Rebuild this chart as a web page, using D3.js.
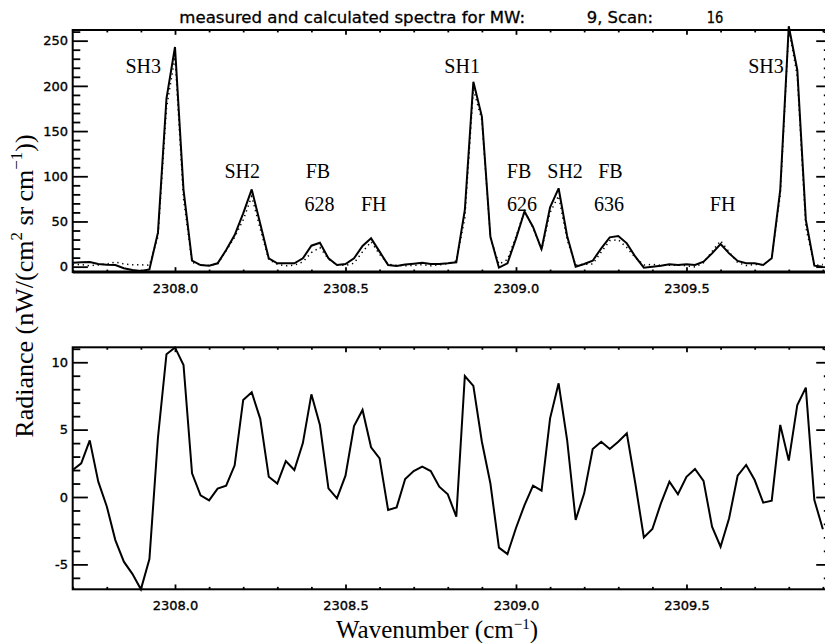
<!DOCTYPE html>
<html>
<head>
<meta charset="utf-8">
<script src="https://cdn.jsdelivr.net/npm/d3@7"></script>
<style>
  body { margin: 0; background: #fff; }
  svg { display: block; }
</style>
</head>
<body>
<svg id="chart" width="825" height="643"></svg>
<script>
// Spectral grid (cm^-1), 0.025 cm^-1 sampling
const wavenumber = [
  2307.700, 2307.725, 2307.750, 2307.775, 2307.800, 2307.825, 2307.850, 2307.875, 2307.900, 2307.925,
  2307.950, 2307.975, 2308.000, 2308.025, 2308.050, 2308.075, 2308.100, 2308.125, 2308.150, 2308.175,
  2308.200, 2308.225, 2308.250, 2308.275, 2308.300, 2308.325, 2308.350, 2308.375, 2308.400, 2308.425,
  2308.450, 2308.475, 2308.500, 2308.525, 2308.550, 2308.575, 2308.600, 2308.625, 2308.650, 2308.675,
  2308.700, 2308.725, 2308.750, 2308.775, 2308.800, 2308.825, 2308.850, 2308.875, 2308.900, 2308.925,
  2308.950, 2308.975, 2309.000, 2309.025, 2309.050, 2309.075, 2309.100, 2309.125, 2309.150, 2309.175,
  2309.200, 2309.225, 2309.250, 2309.275, 2309.300, 2309.325, 2309.350, 2309.375, 2309.400, 2309.425,
  2309.450, 2309.475, 2309.500, 2309.525, 2309.550, 2309.575, 2309.600, 2309.625, 2309.650, 2309.675,
  2309.700, 2309.725, 2309.750, 2309.775, 2309.800, 2309.825, 2309.850, 2309.875, 2309.900
];

// Measured radiance, nW/(cm2 sr cm-1)
const measured = [
  4.4, 4.8, 5.2, 3.0, 2.2, 1.8, -1.8, -3.7, -4.8, -3.0,
  37.6, 186, 243, 85, 6.6, 1.8, 1.1, 3.7, 18.4, 35,
  59, 85.5, 47.5, 9.2, 3.7, 3.7, 3.7, 9.2, 23.2, 26.5,
  9.2, 1.8, 2.9, 9.2, 22.9, 31.3, 16.6, 1.8, 0.7, 2.4,
  3.3, 4.4, 2.9, 2.9, 3.7, 4.8, 62.7, 204.6, 166, 33,
  -1.1, 3.7, 31, 61, 44, 19.2, 65.6, 86.7, 34, 0,
  2.9, 6.6, 20.3, 32.4, 33.9, 25.8, 11, -1.1, 0, 1.1,
  2.6, 1.8, 2.6, 1.8, 5.5, 14.7, 25, 14.7, 6.3, 3.7,
  3.7, 1.8, 9.3, 85, 266, 217.6, 51.7, 1.1, 0
];

// Calculated (forward model) radiance
const calculated = [
  2.4, 2.3, 1.0, 1.9, 2.9, 5.0, 3.0, 2.0, 2.1, 1.6,
  33.2, 175.4, 231.9, 75.2, 4.8, 1.7, 1.4, 3.1, 17.6, 32.6,
  51.8, 77.7, 41.7, 7.7, 2.7, 1.0, 1.7, 5.2, 15.6, 21.2,
  8.6, 1.9, 1.3, 3.9, 16.4, 27.6, 13.7, 2.8, 1.5, 1.1,
  1.4, 2.2, 1.0, 2.1, 3.5, 6.3, 53.7, 196.4, 161.9, 32.0,
  2.7, 7.9, 33.3, 61.6, 43.2, 18.7, 59.8, 78.3, 29.8, 1.7,
  2.6, 3.0, 16.2, 28.8, 29.8, 21.1, 10.0, 1.9, 2.4, 1.6,
  1.5, 1.6, 1.1, -0.3, 4.3, 16.9, 28.7, 16.3, 4.7, 1.3,
  2.4, 2.2, 9.6, 79.6, 263.3, 210.8, 43.6, 1.3, 2.4
];

// Residual, measured minus calculated
const residual = [
  2.0, 2.5, 4.2, 1.14, -0.7, -3.2, -4.8, -5.7, -6.85, -4.6,
  4.4, 10.6, 11.1, 9.8, 1.76, 0.12, -0.25, 0.62, 0.84, 2.35,
  7.2, 7.77, 5.8, 1.5, 1.0, 2.67, 2.0, 4.0, 7.62, 5.35,
  0.64, -0.1, 1.58, 5.27, 6.46, 3.69, 2.87, -0.97, -0.77, 1.34,
  1.93, 2.25, 1.93, 0.77, 0.2, -1.46, 8.98, 8.24, 4.1, 1.0,
  -3.76, -4.23, -2.3, -0.6, 0.84, 0.47, 5.84, 8.44, 4.23, -1.7,
  0.27, 3.56, 4.1, 3.56, 4.1, 4.73, 1.0, -3.0, -2.38, -0.47,
  1.14, 0.2, 1.5, 2.08, 1.2, -2.2, -3.69, -1.58, 1.58, 2.38,
  1.26, -0.42, -0.27, 5.35, 2.7, 6.83, 8.12, -0.22, -2.4
];

// Axis ticks
const xTicks = [2308.0, 2308.5, 2309.0, 2309.5];
const topYTicks = [0, 50, 100, 150, 200, 250];
const bottomYTicks = [-5, 0, 5, 10];

// Line identifications: text, wavenumber and radiance of the label centre/baseline
const lineLabels = ["SH3", "SH2", "FB", "628", "FH", "SH1", "FB", "626", "SH2", "FB", "636", "FH", "SH3"];
const lineLabelWn = [2307.907, 2308.197, 2308.419, 2308.424, 2308.583, 2308.842, 2309.009, 2309.018, 2309.144, 2309.277, 2309.273, 2309.606, 2309.733];
const lineLabelRad = [214, 98.5, 98.5, 61.6, 61.6, 214, 98.5, 61.6, 98.5, 98.5, 61.6, 61.6, 214];

const titleParts = ["measured and calculated spectra for MW:", "9, Scan:", "16"];

const svg = d3.select("#chart");
svg.append("rect").attr("width", 825).attr("height", 643).attr("fill", "#fff");

const left = 72.7, right = 831.4;
const x = d3.scaleLinear().domain([2307.7, 2309.925]).range([left, right]);

const topPanel = { y0: 30, y1: 272 };
const botPanel = { y0: 347.3, y1: 589.3 };
const yTop = d3.scaleLinear().domain([-5.9, 261.8]).range([topPanel.y1, topPanel.y0]);
const yBot = d3.scaleLinear().domain([-6.85, 11.11]).range([botPanel.y1, botPanel.y0]);

const tickFont = "'DejaVu Sans', Verdana, sans-serif";
const serif = "'Liberation Serif', 'Times New Roman', serif";

const xMinor = d3.range(23077, 23100).map(v => v / 10).filter(v => !xTicks.some(t => Math.abs(t - v) < 1e-6));
const topYMinor = d3.range(0, 262, 10).filter(v => v % 50 !== 0);
const botYMinor = d3.range(-6, 12, 1).filter(v => v % 5 !== 0);

function styleAxis(g) {
  g.select(".domain").remove();
  g.selectAll(".tick line").attr("stroke", "#000").attr("stroke-width", 1.8);
  g.selectAll(".tick text").attr("fill", "#000").attr("font-family", tickFont)
    .attr("font-size", 13).attr("stroke", "#000").attr("stroke-width", 0.35);
}

function drawPanel(p, y, yMajor, yMinor) {
  const xl = (p.y1 - p.y0) * 0.02; // x tick length
  const yl = (right - left) * 0.02; // y tick length
  // bottom axis with labels
  svg.append("g").attr("transform", `translate(0,${p.y1})`)
    .call(d3.axisBottom(x).tickValues(xTicks).tickFormat(d3.format(".1f"))
      .tickSizeInner(-xl).tickSizeOuter(0).tickPadding(11.8))
    .call(styleAxis);
  svg.append("g").attr("transform", `translate(0,${p.y1})`)
    .call(d3.axisBottom(x).tickValues(xMinor).tickFormat("").tickSizeInner(-xl / 2).tickSizeOuter(0))
    .call(styleAxis);
  // top axis
  svg.append("g").attr("transform", `translate(0,${p.y0})`)
    .call(d3.axisTop(x).tickValues(xTicks).tickFormat("").tickSizeInner(-xl).tickSizeOuter(0))
    .call(styleAxis);
  svg.append("g").attr("transform", `translate(0,${p.y0})`)
    .call(d3.axisTop(x).tickValues(xMinor).tickFormat("").tickSizeInner(-xl / 2).tickSizeOuter(0))
    .call(styleAxis);
  // left axis with labels
  svg.append("g").attr("transform", `translate(${left},0)`)
    .call(d3.axisLeft(y).tickValues(yMajor).tickFormat(d => String(d))
      .tickSizeInner(-yl).tickSizeOuter(0).tickPadding(4.7))
    .call(styleAxis);
  svg.append("g").attr("transform", `translate(${left},0)`)
    .call(d3.axisLeft(y).tickValues(yMinor).tickFormat("").tickSizeInner(-yl / 2).tickSizeOuter(0))
    .call(styleAxis);
  // right axis
  svg.append("g").attr("transform", `translate(${right},0)`)
    .call(d3.axisRight(y).tickValues(yMajor).tickFormat("").tickSizeInner(-yl).tickSizeOuter(0))
    .call(styleAxis);
  svg.append("g").attr("transform", `translate(${right},0)`)
    .call(d3.axisRight(y).tickValues(yMinor).tickFormat("").tickSizeInner(-yl / 2).tickSizeOuter(0))
    .call(styleAxis);
  // frame
  svg.append("rect").attr("x", left).attr("y", p.y0)
    .attr("width", right - left).attr("height", p.y1 - p.y0)
    .attr("fill", "none").attr("stroke", "#000").attr("stroke-width", 2);
}

drawPanel(topPanel, yTop, topYTicks, topYMinor);
drawPanel(botPanel, yBot, bottomYTicks, botYMinor);

// heavier baseline under the spectra
svg.append("line").attr("x1", left).attr("x2", right)
  .attr("y1", topPanel.y1).attr("y2", topPanel.y1)
  .attr("stroke", "#000").attr("stroke-width", 3.2);

const idx = d3.range(wavenumber.length);

// calculated spectrum (dotted) and measured spectrum (solid)
svg.append("path")
  .attr("d", d3.line().x(i => x(wavenumber[i])).y(i => yTop(calculated[i]))(idx))
  .attr("fill", "none").attr("stroke", "#000").attr("stroke-width", 1.5)
  .attr("stroke-dasharray", "1.3,3.7");
svg.append("path")
  .attr("d", d3.line().x(i => x(wavenumber[i])).y(i => yTop(measured[i]))(idx))
  .attr("fill", "none").attr("stroke", "#000").attr("stroke-width", 2)
  .attr("stroke-linejoin", "miter").attr("stroke-miterlimit", 3);

// residual
svg.append("path")
  .attr("d", d3.line().x(i => x(wavenumber[i])).y(i => yBot(residual[i]))(idx))
  .attr("fill", "none").attr("stroke", "#000").attr("stroke-width", 2)
  .attr("stroke-linejoin", "miter").attr("stroke-miterlimit", 3);

// line identifications
svg.append("g").selectAll("text").data(lineLabels).join("text")
  .attr("x", (d, i) => x(lineLabelWn[i]))
  .attr("y", (d, i) => yTop(lineLabelRad[i]))
  .attr("text-anchor", "middle")
  .attr("font-family", serif).attr("font-size", 20).attr("fill", "#000")
  .text(d => d);

// title
const titleX = [179.3, 586.7, 706.7];
const titleW = [345.7, 66.3, 16.6];
const title = svg.append("text").attr("y", 23.3)
  .attr("font-family", tickFont).attr("font-size", 16).attr("fill", "#000")
  .attr("stroke", "#000").attr("stroke-width", 0.3);
titleParts.forEach((t, i) => {
  title.append("tspan").attr("x", titleX[i]).attr("textLength", titleW[i])
    .attr("lengthAdjust", "spacingAndGlyphs").text(t);
});

// axis titles
const xt = svg.append("text").attr("x", 437).attr("y", 637.5)
  .attr("text-anchor", "middle").attr("font-family", serif).attr("font-size", 25).attr("fill", "#000");
xt.append("tspan").text("Wavenumber (cm");
xt.append("tspan").attr("font-size", 15).attr("dy", -9).text("\u22121");
xt.append("tspan").attr("dy", 9).text(")");

const yt = svg.append("text").attr("transform", "translate(33,286) rotate(-90)")
  .attr("text-anchor", "middle").attr("font-family", serif).attr("font-size", 26).attr("fill", "#000");
yt.append("tspan").text("Radiance (nW/(cm");
yt.append("tspan").attr("font-size", 17).attr("dy", -11).text("2");
yt.append("tspan").attr("dy", 11).text(" sr\u2009cm");
yt.append("tspan").attr("font-size", 17).attr("dy", -11).text("\u22121");
yt.append("tspan").attr("dy", 11).text("))");
</script>
</body>
</html>
